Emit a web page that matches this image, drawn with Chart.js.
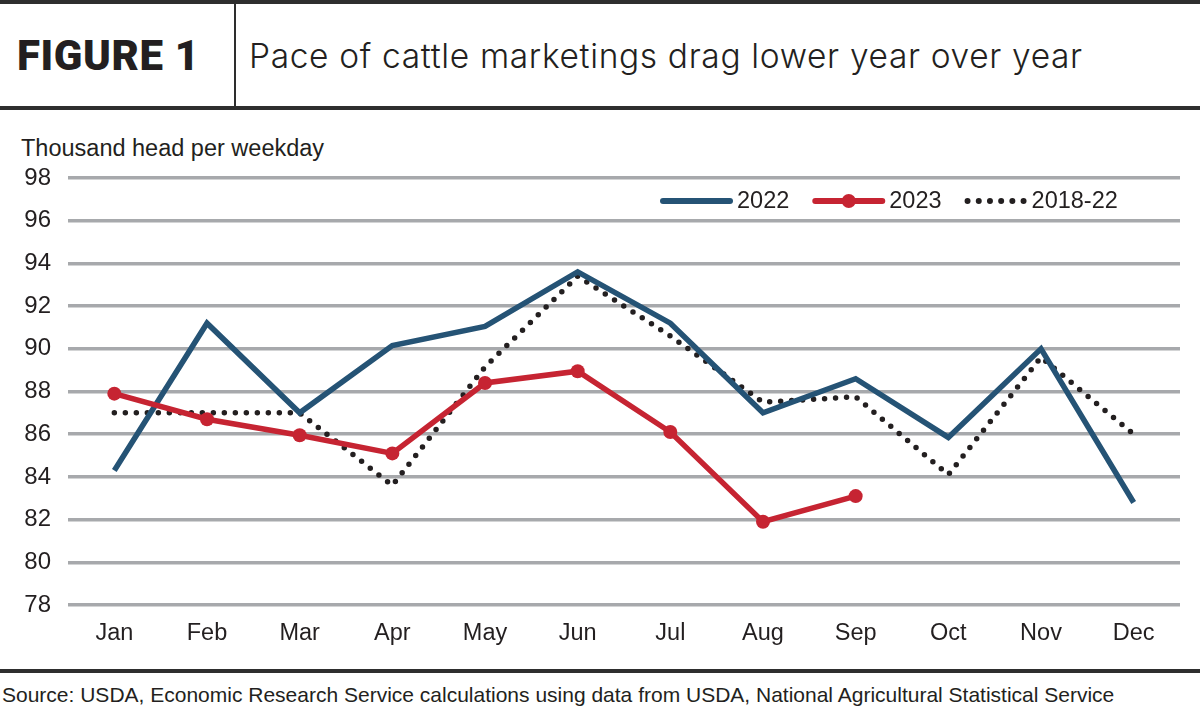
<!DOCTYPE html>
<html>
<head>
<meta charset="utf-8">
<script src="https://cdn.jsdelivr.net/npm/chart.js@4"></script>
<style>
  body { margin: 0; background: #fff; }
  #page { position: relative; width: 1200px; height: 707px; overflow: hidden; color: #231f20; }
  .rule { position: absolute; left: 0; width: 1200px; height: 4px; background: #2e2e2e; }
  #fig { position: absolute; left: 17px; top: 35px; font: 900 42px/42px Roboto, sans-serif; letter-spacing: 0.6px; white-space: nowrap; }
  #sub { position: absolute; left: 249px; top: 40px; font: 300 33.5px/33px Inter, sans-serif; letter-spacing: 0.65px; white-space: nowrap; }
  #unit { position: absolute; left: 21px; top: 137px; font: 23.5px/23.5px "Liberation Sans", Arial, sans-serif; white-space: nowrap; }
  #src { position: absolute; left: 2px; top: 684px; font: 21px/21px "Liberation Sans", Arial, sans-serif; white-space: nowrap; }
  #wrap { position: absolute; left: 0; top: 110px; width: 1200px; height: 557px; }
</style>
</head>
<body>
<div id="page">
  <div class="rule" style="top:0"></div>
  <div class="rule" style="top:106px"></div>
  <div style="position:absolute;left:234px;top:4px;width:2px;height:102px;background:#2e2e2e"></div>
  <div id="fig">FIGURE 1</div>
  <div id="sub">Pace of cattle marketings drag lower year over year</div>
  <div id="unit">Thousand head per weekday</div>
  <div id="wrap"><canvas id="cattleChart"></canvas></div>
  <div class="rule" style="top:669px"></div>
  <div id="src">Source: USDA, Economic Research Service calculations using data from USDA, National Agricultural Statistical Service</div>
</div>
<script>
// Dữ liệu
var months = ['Jan', 'Feb', 'Mar', 'Apr', 'May', 'Jun', 'Jul', 'Aug', 'Sep', 'Oct', 'Nov', 'Dec'];
var y2022 = [84.3, 91.2, 87.0, 90.15, 91.05, 93.6, 91.2, 87.0, 88.6, 85.85, 90.0, 82.8];
var y2023 = [87.9, 86.7, 85.95, 85.1, 88.4, 88.95, 86.1, 81.9, 83.1, null, null, null];
var avg1822 = [87.0, 87.0, 87.0, 83.6, 89.15, 93.4, 90.6, 87.5, 87.75, 84.1, 89.6, 86.0];
var yTicks = [78, 80, 82, 84, 86, 88, 90, 92, 94, 96, 98];

var textColor = '#231f20';
var chartFont = '"Liberation Sans", Arial, sans-serif';

// Chú thích vẽ tay ở góc trên bên phải
var lineLegend = {
  id: 'lineLegend',
  afterDraw: function (chart) {
    var ctx = chart.ctx;
    var y = chart.chartArea.top + 23;
    var x = 663;
    ctx.save();
    ctx.font = '23.5px ' + chartFont;
    ctx.textBaseline = 'middle';
    chart.data.datasets.forEach(function (ds) {
      var dotted = ds.borderDash.length > 0;
      var len = dotted ? 57 : 67;
      ctx.strokeStyle = ds.borderColor;
      ctx.lineWidth = 6;
      ctx.lineCap = 'round';
      ctx.setLineDash(dotted ? [0, 11.2] : []);
      ctx.beginPath();
      ctx.moveTo(x, y);
      ctx.lineTo(x + len, y);
      ctx.stroke();
      ctx.setLineDash([]);
      if (ds.pointRadius > 0) {
        ctx.fillStyle = ds.borderColor;
        ctx.beginPath();
        ctx.arc(x + len / 2, y, ds.pointRadius, 0, Math.PI * 2);
        ctx.fill();
      }
      ctx.fillStyle = textColor;
      ctx.fillText(ds.label, x + len + 7, y + 1);
      x += len + 7 + ctx.measureText(ds.label).width + 26;
    });
    ctx.restore();
  }
};

var ctx = document.getElementById('cattleChart').getContext('2d');
var chart = new Chart(ctx, {
  type: 'line',
  data: {
    labels: months,
    datasets: [{
      label: '2022',
      data: y2022,
      borderColor: '#255375',
      borderWidth: 5.5,
      borderDash: [],
      pointRadius: 0,
      tension: 0,
      order: 1
    }, {
      label: '2023',
      data: y2023,
      borderColor: '#c62432',
      backgroundColor: '#c62432',
      borderWidth: 5.5,
      borderDash: [],
      pointRadius: 7,
      pointHoverRadius: 7,
      pointBorderWidth: 0,
      tension: 0,
      order: 0
    }, {
      label: '2018-22',
      data: avg1822,
      borderColor: '#231f20',
      borderWidth: 5.5,
      borderDash: [0, 11],
      borderCapStyle: 'round',
      pointRadius: 0,
      tension: 0,
      order: 2
    }]
  },
  options: {
    responsive: true,
    maintainAspectRatio: false,
    animation: false,
    devicePixelRatio: 1,
    layout: { padding: { top: 68, right: 20, left: 0, bottom: 0 } },
    plugins: {
      legend: { display: false },
      title: { display: false },
      tooltip: { enabled: false }
    },
    scales: {
      x: {
        offset: true,
        grid: { display: false, drawTicks: false },
        border: { display: false },
        ticks: { color: textColor, font: { family: chartFont, size: 23.5 }, padding: 14, maxRotation: 0 },
        afterFit: function (scale) { scale.height = 62; }
      },
      y: {
        min: 78,
        max: 98,
        afterBuildTicks: function (scale) { scale.ticks = yTicks.map(function (v) { return { value: v }; }); },
        grid: { color: '#a7a9ac', lineWidth: 3.5, drawTicks: false },
        border: { display: false },
        ticks: { color: textColor, font: { family: chartFont, size: 24 }, padding: 17 },
        afterFit: function (scale) { scale.width = 68; }
      }
    }
  },
  plugins: [lineLegend]
});
</script>
</body>
</html>
